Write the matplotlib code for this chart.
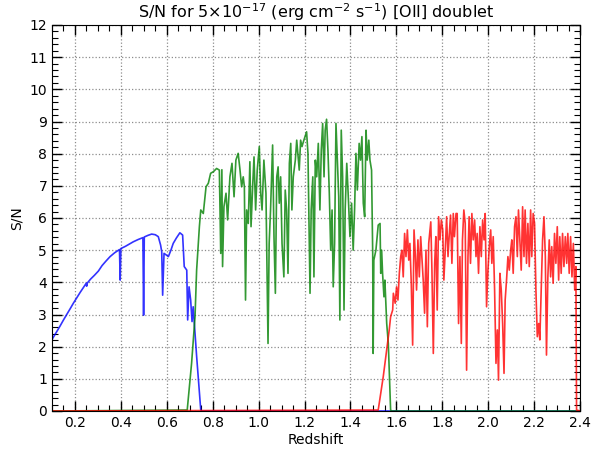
import matplotlib
matplotlib.use("Agg")
import matplotlib.pyplot as plt
from matplotlib.ticker import MultipleLocator

# ---- data ----
blue_z = [0.100, 0.103, 0.120, 0.135, 0.150, 0.165, 0.180, 0.193, 0.208, 0.222, 0.236,
          0.249, 0.251, 0.254, 0.268, 0.285, 0.302, 0.318, 0.335, 0.353, 0.373,
          0.394, 0.397, 0.400, 0.420, 0.437, 0.454, 0.475, 0.496, 0.499, 0.502, 0.518,
          0.534, 0.550, 0.563, 0.573, 0.578, 0.582, 0.588, 0.598, 0.607, 0.618, 0.628,
          0.642, 0.657, 0.669, 0.676, 0.687, 0.691, 0.697, 0.704, 0.710, 0.715, 0.730,
          0.748, 0.752, 2.400]
blue_sn = [2.20, 2.26, 2.46, 2.64, 2.83, 3.01, 3.19, 3.35, 3.52, 3.68, 3.83,
           3.97, 3.88, 3.98, 4.10, 4.22, 4.35, 4.52, 4.66, 4.80, 4.92,
           5.02, 4.07, 5.05, 5.12, 5.19, 5.26, 5.33, 5.39, 2.98, 5.41, 5.46,
           5.50, 5.48, 5.42, 5.16, 4.95, 3.60, 4.90, 4.85, 4.80, 5.00, 5.21,
           5.38, 5.54, 5.47, 4.49, 4.38, 2.83, 3.86, 3.45, 2.78, 3.24, 1.70,
           0.03, 0.00, 0.00]

green_z = [0.100, 0.689, 0.708, 0.723, 0.730, 0.742, 0.748, 0.759, 0.771, 0.781, 0.791,
           0.803, 0.817, 0.829, 0.835, 0.840, 0.843, 0.849, 0.858, 0.865, 0.875, 0.884,
           0.893, 0.901, 0.911, 0.919, 0.926, 0.933, 0.938, 0.943, 0.948, 0.955, 0.962,
           0.967, 0.974, 0.980, 0.987, 0.994, 1.003, 1.009, 1.015, 1.023, 1.032, 1.041,
           1.046, 1.052, 1.061, 1.067, 1.073, 1.079, 1.085, 1.090, 1.096, 1.102, 1.110,
           1.116, 1.122, 1.128, 1.134, 1.140, 1.145, 1.151, 1.160, 1.166, 1.171, 1.177,
           1.183, 1.189, 1.195, 1.202, 1.209, 1.215, 1.221, 1.224, 1.229, 1.236, 1.241,
           1.247, 1.253, 1.260, 1.267, 1.273, 1.279, 1.285, 1.290, 1.296, 1.302, 1.308,
           1.314, 1.320, 1.325, 1.331, 1.337, 1.343, 1.349, 1.354, 1.360, 1.366, 1.372,
           1.377, 1.384, 1.390, 1.398, 1.405, 1.412, 1.418, 1.424, 1.430, 1.438, 1.444,
           1.450, 1.456, 1.462, 1.468, 1.473, 1.480, 1.485, 1.492, 1.497, 1.499, 1.502,
           1.511, 1.521, 1.529, 1.532, 1.536, 1.540, 1.546, 1.550, 1.558, 1.565, 1.575,
           1.580, 2.400]
green_sn = [0.00, 0.03, 1.48, 2.93, 4.38, 5.73, 6.25, 6.14, 6.97, 7.08, 7.39,
            7.44, 7.54, 7.49, 4.90, 7.50, 4.49, 6.35, 6.77, 5.94, 7.28, 7.70,
            6.66, 7.80, 8.01, 7.49, 6.97, 7.28, 6.97, 3.45, 6.25, 5.83, 7.75,
            5.73, 6.97, 7.90, 6.25, 7.49, 8.22, 6.77, 6.25, 7.80, 6.77, 2.10,
            5.21, 6.25, 8.27, 5.42, 3.66, 7.28, 7.59, 6.46, 7.28, 5.21, 4.17,
            6.87, 6.25, 4.28, 7.70, 8.32, 6.25, 7.28, 7.80, 8.42, 8.01, 7.49,
            8.42, 8.22, 8.37, 8.53, 8.68, 8.01, 5.00, 3.66, 6.25, 7.28, 4.17,
            7.80, 7.28, 8.32, 6.25, 8.11, 8.94, 7.28, 8.73, 9.07, 8.11, 6.77,
            5.00, 6.25, 3.86, 5.21, 8.94, 7.80, 6.66, 2.83, 8.73, 7.28, 3.14,
            6.25, 7.70, 6.77, 5.42, 6.46, 5.00, 6.25, 8.01, 6.87, 8.32, 7.80,
            8.53, 6.46, 6.04, 8.73, 7.80, 8.42, 7.80, 7.49, 4.90, 1.79, 4.69,
            5.00, 5.78, 5.83, 4.28, 5.00, 4.28, 3.55, 4.07, 2.72, 2.10, 0.03,
            0.00, 0.00]

red_z = [0.100, 1.521, 1.543, 1.558, 1.569, 1.575, 1.584, 1.587, 1.595, 1.601, 1.607,
         1.613, 1.619, 1.624, 1.630, 1.636, 1.642, 1.648, 1.654, 1.659, 1.665, 1.671,
         1.677, 1.683, 1.688, 1.694, 1.700, 1.706, 1.711, 1.717, 1.723, 1.729, 1.735,
         1.741, 1.750, 1.755, 1.761, 1.767, 1.772, 1.778, 1.784, 1.790, 1.796, 1.802,
         1.807, 1.813, 1.819, 1.825, 1.830, 1.836, 1.842, 1.848, 1.853, 1.860, 1.865,
         1.871, 1.877, 1.883, 1.888, 1.894, 1.900, 1.906, 1.912, 1.917, 1.923, 1.929,
         1.935, 1.941, 1.947, 1.952, 1.958, 1.964, 1.970, 1.976, 1.982, 1.987, 1.993,
         1.999, 2.005, 2.011, 2.016, 2.022, 2.028, 2.034, 2.040, 2.045, 2.051, 2.057,
         2.063, 2.069, 2.074, 2.080, 2.086, 2.092, 2.098, 2.103, 2.109, 2.115, 2.121,
         2.127, 2.132, 2.138, 2.144, 2.150, 2.156, 2.161, 2.167, 2.173, 2.179, 2.185,
         2.190, 2.196, 2.202, 2.208, 2.214, 2.220, 2.225, 2.231, 2.237, 2.243, 2.249,
         2.254, 2.260, 2.266, 2.272, 2.277, 2.283, 2.289, 2.295, 2.301, 2.307, 2.312,
         2.318, 2.324, 2.330, 2.336, 2.342, 2.347, 2.353, 2.359, 2.365, 2.371, 2.377,
         2.382, 2.385, 2.400]
red_sn = [0.00, 0.03, 1.07, 1.90, 2.52, 2.93, 3.14, 3.66, 3.35, 3.86, 3.45,
          4.28, 4.80, 5.00, 4.17, 5.52, 4.80, 5.63, 4.69, 5.21, 3.97, 2.05,
          5.63, 4.80, 3.76, 5.32, 4.17, 5.42, 4.80, 4.07, 3.04, 5.00, 2.62,
          5.21, 5.88, 4.38, 1.79, 4.59, 5.42, 3.14, 6.04, 5.32, 5.94, 5.63,
          4.07, 5.00, 6.04, 4.80, 5.42, 6.09, 4.59, 6.14, 5.42, 6.14, 6.14,
          2.72, 4.80, 2.10, 5.32, 6.25, 5.83, 1.27, 4.80, 6.04, 4.59, 6.14,
          5.32, 5.94, 4.80, 5.52, 4.28, 5.73, 4.80, 5.94, 5.32, 6.14, 3.24,
          4.38, 5.11, 5.63, 4.59, 5.42, 3.76, 1.48, 2.52, 0.96, 4.28, 3.76,
          2.72, 1.17, 3.45, 4.07, 4.80, 4.38, 5.00, 5.32, 4.28, 5.73, 6.04,
          4.80, 6.25, 5.32, 4.38, 6.35, 4.80, 6.25, 4.59, 5.83, 4.49, 6.25,
          4.80, 6.14, 5.83, 3.76, 2.31, 2.72, 2.21, 3.76, 5.32, 6.04, 4.80,
          1.74, 4.17, 5.32, 4.17, 5.11, 3.97, 5.52, 4.59, 5.73, 4.07, 5.42,
          4.28, 5.52, 4.49, 5.42, 4.59, 5.52, 4.28, 5.42, 4.17, 5.21, 3.76,
          4.49, 0.03, 0.00]

x_ticks = [0.2, 0.4, 0.6, 0.8, 1.0, 1.2, 1.4, 1.6, 1.8, 2.0, 2.2, 2.4]
y_ticks = list(range(0, 13))

# ---- figure ----
fig = plt.figure(figsize=(5.92, 4.51), dpi=100)
ax = fig.add_axes([52 / 592, 1 - 411 / 451, 528 / 592, 386 / 451])

ax.plot(blue_z, blue_sn, color='b', alpha=0.8, lw=1.2)
ax.plot(green_z, green_sn, color='g', alpha=0.8, lw=1.2)
ax.plot(red_z, red_sn, color='r', alpha=0.8, lw=1.2)

ax.set_xlim(0.1, 2.4)
ax.set_ylim(0, 12)
ax.set_xticks(x_ticks)
ax.set_xticklabels([f"{t:.1f}" for t in x_ticks])
ax.set_yticks(y_ticks)
ax.xaxis.set_minor_locator(MultipleLocator(0.05))
ax.yaxis.set_minor_locator(MultipleLocator(0.2))
ax.tick_params(which='both', direction='in', top=True, right=True, labelsize=10)
ax.tick_params(which='major', length=7, width=1)
ax.tick_params(which='minor', length=4, width=0.8)
ax.grid(True, which='major', linestyle=':', color='gray', lw=0.9, alpha=0.9)

ax.set_xlabel("Redshift", fontsize=10, labelpad=2)
ax.set_ylabel("S/N", fontsize=10, labelpad=4)
ax.set_title(r"S/N for 5$\times10^{-17}$ (erg cm$^{-2}$ s$^{-1}$) [OII] doublet",
             fontsize=11.5, pad=5)

fig.savefig("out.png", dpi=100)
